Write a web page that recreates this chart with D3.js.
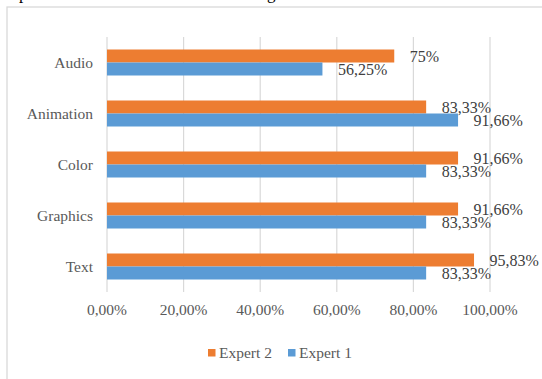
<!DOCTYPE html>
<html><head><meta charset="utf-8">
<script src="https://cdn.jsdelivr.net/npm/d3@7"></script>
<style>html,body{margin:0;padding:0;background:#fff;overflow:hidden}</style>
</head><body>
<svg id="c" width="542" height="379"></svg>
<script>
const categories = ["Audio", "Animation", "Color", "Graphics", "Text"];
const expert2 = [0.75, 0.8333, 0.9166, 0.9166, 0.9583];
const expert1 = [0.5625, 0.9166, 0.8333, 0.8333, 0.8333];
const expert2Labels = ["75%", "83,33%", "91,66%", "91,66%", "95,83%"];
const expert1Labels = ["56,25%", "91,66%", "83,33%", "83,33%", "83,33%"];
const ticks = [0, 0.2, 0.4, 0.6, 0.8, 1.0];
const tickLabels = ["0,00%", "20,00%", "40,00%", "60,00%", "80,00%", "100,00%"];
const seriesNames = ["Expert 2", "Expert 1"];
const colors = ["#ED7D31", "#5B9BD5"];

const svg = d3.select("#c");
const font = "'Liberation Serif','Times New Roman',serif";

// cut-off caption descenders above the chart
svg.append("text").attr("x", 19).attr("y", -1).attr("font-family", font).attr("font-size", 17).attr("fill", "#000").text("p");
svg.append("text").attr("x", 267).attr("y", -1).attr("font-family", font).attr("font-size", 17).attr("fill", "#000").text("g");

// chart frame
svg.append("rect").attr("x", 7).attr("y", 7).attr("width", 600).attr("height", 400)
  .attr("fill", "none").attr("stroke", "#d9d9d9").attr("stroke-width", 1.3);

const x = d3.scaleLinear().domain([0, 1]).range([107, 490]);
const y = d3.scaleBand().domain(categories).range([37, 292]);
const barH = 13;

// gridlines
svg.append("g").selectAll("line").data(ticks).join("line")
  .attr("x1", d => x(d)).attr("x2", d => x(d))
  .attr("y1", 37).attr("y2", 292)
  .attr("stroke", "#d9d9d9").attr("stroke-width", 1.2);

// tick labels
svg.append("g").selectAll("text").data(ticks).join("text")
  .attr("x", d => x(d)).attr("y", 315)
  .attr("text-anchor", "middle")
  .attr("font-family", font).attr("font-size", 15.5).attr("fill", "#595959")
  .text((d, i) => tickLabels[i]);

// category labels
svg.append("g").selectAll("text").data(categories).join("text")
  .attr("x", 93).attr("y", d => y(d) + y.bandwidth() / 2 + 5)
  .attr("text-anchor", "end")
  .attr("font-family", font).attr("font-size", 15.5).attr("fill", "#595959")
  .text(d => d);

const series = [
  { vals: expert2, labels: expert2Labels, off: -barH, color: colors[0] },
  { vals: expert1, labels: expert1Labels, off: 0, color: colors[1] }
];
series.forEach(s => {
  const g = svg.append("g");
  g.selectAll("rect").data(categories).join("rect")
    .attr("x", x(0))
    .attr("y", (d) => y(d) + y.bandwidth() / 2 + s.off)
    .attr("width", (d, i) => x(s.vals[i]) - x(0))
    .attr("height", barH)
    .attr("fill", s.color);
  g.selectAll("text").data(categories).join("text")
    .attr("x", (d, i) => x(s.vals[i]) + 15.5)
    .attr("y", (d) => y(d) + y.bandwidth() / 2 + s.off + barH / 2 + 5.5)
    .attr("font-family", font).attr("font-size", 16).attr("fill", "#404040")
    .text((d, i) => s.labels[i]);
});

// legend
const legX = [208, 288];
seriesNames.forEach((n, i) => {
  svg.append("rect").attr("x", legX[i]).attr("y", 349).attr("width", 7.5).attr("height", 7.5).attr("fill", colors[i]);
  svg.append("text").attr("x", legX[i] + 11).attr("y", 358)
    .attr("font-family", font).attr("font-size", 15.5).attr("fill", "#595959").text(n);
});
</script>
</body></html>
